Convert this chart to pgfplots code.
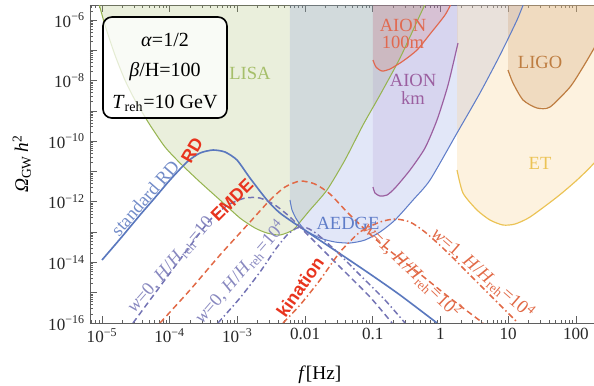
\documentclass[border=0pt]{standalone}
\usepackage{fontspec}
\setmainfont{Liberation Serif}
\setsansfont{Liberation Sans}
\usepackage{pgfplots}
\pgfplotsset{compat=1.18}
\usepackage{pgfplotstable}

\definecolor{lisaC}{RGB}{150,180,80}
\definecolor{lisaF}{RGB}{160,182,95}
\definecolor{aedgeC}{RGB}{95,125,200}
\definecolor{aedgeF}{RGB}{125,145,225}
\definecolor{aionkmC}{RGB}{155,95,160}
\definecolor{aionkmF}{RGB}{150,115,185}
\definecolor{aionhC}{RGB}{225,105,80}
\definecolor{aionhF}{RGB}{215,115,105}
\definecolor{etC}{RGB}{235,195,85}
\definecolor{etF}{RGB}{250,212,150}
\definecolor{ligoC}{RGB}{190,125,65}
\definecolor{ligoF}{RGB}{200,150,100}
\definecolor{rdC}{RGB}{90,120,190}
\definecolor{emdeC}{RGB}{115,115,180}
\definecolor{kinC}{RGB}{225,105,70}
\definecolor{redlab}{RGB}{232,52,30}
\definecolor{axisC}{RGB}{95,95,95}

% all tables: lx = log10(f/Hz), ly = log10(Omega h^2)
\pgfplotstableread{
lx ly
-5.059 -5.340
-4.956 -6.165
-4.808 -7.155
-4.661 -7.980
-4.513 -8.640
-4.291 -9.465
-4.069 -10.191
-3.848 -10.719
-3.552 -11.347
-3.257 -11.941
-2.962 -12.535
-2.740 -12.865
-2.563 -13.030
-2.371 -13.096
-2.179 -12.931
-2.075 -12.667
-1.928 -12.271
-1.677 -11.611
-1.411 -10.620
-1.145 -9.465
-0.894 -8.475
-0.598 -7.254
-0.303 -5.835
-0.199 -5.340
}\lisa

\pgfplotstableread{
lx ly
-2.223 -5.340
-2.223 -11.941
-2.193 -12.271
-2.120 -12.601
-2.001 -12.931
-1.780 -13.195
-1.558 -13.327
-1.337 -13.360
-1.115 -13.261
-0.894 -12.997
-0.672 -12.601
-0.406 -11.941
-0.155 -11.281
0.244 -9.729
0.583 -8.409
0.879 -7.155
1.130 -6.000
1.248 -5.340
}\aedge

\pgfplotstableread{
lx ly
-2.223 -11.941
-2.193 -12.271
-2.120 -12.601
-2.001 -12.931
-1.780 -13.195
-1.558 -13.327
-1.337 -13.360
-1.115 -13.261
-0.894 -12.997
-0.672 -12.601
-0.406 -11.941
-0.155 -11.281
0.244 -9.729
0.583 -8.409
0.879 -7.155
1.130 -6.000
1.248 -5.340
}\aedgeline

\pgfplotstableread{
lx ly
-0.997 -5.340
-0.997 -11.512
-0.967 -11.710
-0.894 -11.809
-0.790 -11.776
-0.672 -11.545
-0.450 -10.950
-0.229 -10.224
-0.052 -9.300
0.111 -8.145
0.258 -6.759
0.258 -5.340
}\aionkm

\pgfplotstableread{
lx ly
-0.997 -11.512
-0.967 -11.710
-0.894 -11.809
-0.790 -11.776
-0.672 -11.545
-0.450 -10.950
-0.229 -10.224
-0.052 -9.300
0.111 -8.145
0.258 -6.759
}\aionkmline

\pgfplotstableread{
lx ly
-0.997 -5.340
-0.997 -7.320
-0.953 -7.551
-0.864 -7.683
-0.746 -7.617
-0.554 -7.353
-0.347 -6.990
-0.155 -6.462
0.066 -5.835
0.185 -5.340
}\aionh

\pgfplotstableread{
lx ly
-0.997 -7.320
-0.953 -7.551
-0.864 -7.683
-0.746 -7.617
-0.554 -7.353
-0.347 -6.990
-0.155 -6.462
0.066 -5.835
0.185 -5.340
}\aionhline

\pgfplotstableread{
lx ly
0.244 -5.340
0.244 -10.950
0.332 -11.710
0.539 -12.271
0.731 -12.601
0.923 -12.766
1.100 -12.733
1.322 -12.502
1.721 -11.842
2.016 -11.281
2.282 -10.686
2.651 -9.630
2.651 -5.340
}\et

\pgfplotstableread{
lx ly
0.244 -10.950
0.332 -11.710
0.539 -12.271
0.731 -12.601
0.923 -12.766
1.100 -12.733
1.322 -12.502
1.721 -11.842
2.016 -11.281
2.282 -10.686
2.651 -9.630
}\etline

\pgfplotstableread{
lx ly
0.997 -5.340
0.997 -7.650
1.071 -8.079
1.219 -8.640
1.425 -8.904
1.617 -8.871
1.913 -8.211
2.105 -7.551
2.253 -6.990
2.504 -6.000
2.651 -5.340
}\ligo

\pgfplotstableread{
lx ly
0.997 -7.650
1.071 -8.079
1.219 -8.640
1.425 -8.904
1.617 -8.871
1.913 -8.211
2.105 -7.551
2.253 -6.990
2.504 -6.000
2.651 -5.340
}\ligoline

% standard RD
\pgfplotstableread{
lx ly
-5.000 -13.921
-4.734 -13.228
-4.439 -12.436
-4.247 -11.941
-3.996 -11.281
-3.745 -10.686
-3.552 -10.389
-3.360 -10.290
-3.183 -10.356
-3.006 -10.620
-2.814 -11.215
-2.563 -11.941
-2.371 -12.370
-2.075 -12.832
-1.588 -13.558
-1.041 -14.383
-0.598 -15.076
-0.052 -16.000
}\rd

% w=0, H/Hreh=10
\pgfplotstableread{
lx ly
-4.542 -16.000
-4.291 -15.241
-3.996 -14.350
-3.700 -13.459
-3.405 -12.601
-3.139 -12.106
-2.888 -11.875
-2.666 -11.875
-2.445 -12.106
-2.223 -12.502
-1.928 -13.162
-1.484 -14.152
-1.041 -15.142
-0.716 -16.000
}\emdea

% w=0, H/Hreh=10^4
\pgfplotstableread{
lx ly
-3.287 -16.000
-2.962 -15.175
-2.666 -14.317
-2.445 -13.591
-2.267 -13.096
-2.120 -12.865
-1.972 -12.865
-1.824 -13.063
-1.558 -13.591
-1.189 -14.416
-0.820 -15.241
-0.524 -16.000
}\emdeb

% w=1, H/Hreh=10^2
\pgfplotstableread{
lx ly
-4.143 -16.000
-3.700 -14.911
-3.257 -13.756
-2.814 -12.667
-2.518 -11.941
-2.297 -11.512
-2.075 -11.314
-1.854 -11.413
-1.632 -11.743
-1.337 -12.436
-0.894 -13.360
-0.303 -14.383
0.140 -15.175
0.628 -16.000
}\kina

% w=1, H/Hreh=10^4
\pgfplotstableread{
lx ly
-2.326 -16.000
-2.075 -15.406
-1.780 -14.581
-1.484 -13.657
-1.189 -12.997
-0.894 -12.667
-0.672 -12.568
-0.450 -12.667
-0.229 -12.997
0.066 -13.591
0.436 -14.416
0.805 -15.241
1.145 -16.000
}\kinb

\begin{document}
\begin{tikzpicture}
\begin{axis}[
  scale only axis, width=339.4pt, height=214.1pt,
  xmode=log, ymode=log,
  xmin=6.65e-6, xmax=185, ymin=1e-16, ymax=3.13e-6,
  axis x line*=box, axis y line*=left,
  axis line style={axisC, line width=0.6pt},
  tick style={axisC, line width=0.5pt},
  tick align=inside, major tick length=4.5pt, minor tick length=2.3pt,
  xtick={1e-5,1e-4,1e-3,1e-2,1e-1,1,10,100},
  xticklabels={10\textsuperscript{−5},10\textsuperscript{−4},10\textsuperscript{−3},0.01,0.1,1,10,100},
  minor xtick={7e-6,8e-6,9e-6,2e-5,3e-5,4e-5,5e-5,6e-5,7e-5,8e-5,9e-5,2e-4,3e-4,4e-4,5e-4,6e-4,7e-4,8e-4,9e-4,2e-3,3e-3,4e-3,5e-3,6e-3,7e-3,8e-3,9e-3,0.02,0.03,0.04,0.05,0.06,0.07,0.08,0.09,0.2,0.3,0.4,0.5,0.6,0.7,0.8,0.9,2,3,4,5,6,7,8,9,20,30,40,50,60,70,80,90},
  ytick={1e-16,1e-15,1e-14,1e-13,1e-12,1e-11,1e-10,1e-9,1e-8,1e-7,1e-6},
  yticklabels={10\textsuperscript{−16},,10\textsuperscript{−14},,10\textsuperscript{−12},,10\textsuperscript{−10},,10\textsuperscript{−8},,10\textsuperscript{−6}},
  minor ytick={2e-16,3e-16,4e-16,5e-16,6e-16,7e-16,8e-16,9e-16,2e-15,3e-15,4e-15,5e-15,6e-15,7e-15,8e-15,9e-15,2e-14,3e-14,4e-14,5e-14,6e-14,7e-14,8e-14,9e-14,2e-13,3e-13,4e-13,5e-13,6e-13,7e-13,8e-13,9e-13,2e-12,3e-12,4e-12,5e-12,6e-12,7e-12,8e-12,9e-12,2e-11,3e-11,4e-11,5e-11,6e-11,7e-11,8e-11,9e-11,2e-10,3e-10,4e-10,5e-10,6e-10,7e-10,8e-10,9e-10,2e-9,3e-9,4e-9,5e-9,6e-9,7e-9,8e-9,9e-9,2e-8,3e-8,4e-8,5e-8,6e-8,7e-8,8e-8,9e-8,2e-7,3e-7,4e-7,5e-7,6e-7,7e-7,8e-7,9e-7,2e-6,3e-6},
  ticklabel style={font=\fontsize{11.5}{13}\selectfont, text=black!85},
  xlabel={\textit{f}[Hz]},
  xlabel style={font=\fontsize{13}{15}\selectfont, at={(axis description cs:0.456,-0.1635)}, anchor=center},
  ylabel={\textit{Ω}\textsubscript{GW}\,\textit{h}\textsuperscript{2}},
  ylabel style={font=\fontsize{13}{15}\selectfont, at={(axis description cs:-0.135,0.5)}, anchor=center},
]
% detector regions
\addplot[draw=none, fill=lisaF, fill opacity=0.22] table[x expr=10^\thisrow{lx}, y expr=10^\thisrow{ly}] {\lisa} -- cycle;
\addplot[draw=none, fill=aedgeF, fill opacity=0.22] table[x expr=10^\thisrow{lx}, y expr=10^\thisrow{ly}] {\aedge} -- cycle;
\addplot[draw=none, fill=aionkmF, fill opacity=0.15] table[x expr=10^\thisrow{lx}, y expr=10^\thisrow{ly}] {\aionkm} -- cycle;
\addplot[draw=none, fill=aionhF, fill opacity=0.2] table[x expr=10^\thisrow{lx}, y expr=10^\thisrow{ly}] {\aionh} -- cycle;
\addplot[draw=none, fill=etF, fill opacity=0.3] table[x expr=10^\thisrow{lx}, y expr=10^\thisrow{ly}] {\et} -- cycle;
\addplot[draw=none, fill=ligoF, fill opacity=0.25] table[x expr=10^\thisrow{lx}, y expr=10^\thisrow{ly}] {\ligo} -- cycle;
% boundaries
\addplot[lisaC, line width=0.7pt, smooth, tension=0.4] table[x expr=10^\thisrow{lx}, y expr=10^\thisrow{ly}] {\lisa};
\addplot[aedgeC, line width=0.7pt, smooth, tension=0.4] table[x expr=10^\thisrow{lx}, y expr=10^\thisrow{ly}] {\aedgeline};
\addplot[aionkmC, line width=0.8pt, smooth, tension=0.4] table[x expr=10^\thisrow{lx}, y expr=10^\thisrow{ly}] {\aionkmline};
\addplot[aionhC, line width=0.8pt, smooth, tension=0.4] table[x expr=10^\thisrow{lx}, y expr=10^\thisrow{ly}] {\aionhline};
\addplot[etC, line width=0.8pt, smooth, tension=0.4] table[x expr=10^\thisrow{lx}, y expr=10^\thisrow{ly}] {\etline};
\addplot[ligoC, line width=0.8pt, smooth, tension=0.4] table[x expr=10^\thisrow{lx}, y expr=10^\thisrow{ly}] {\ligoline};
% spectra
\addplot[rdC, line width=1.1pt, smooth, tension=0.4] table[x expr=10^\thisrow{lx}, y expr=10^\thisrow{ly}] {\rd};
\addplot[emdeC, line width=1pt, smooth, tension=0.4, dash pattern=on 4pt off 2.5pt] table[x expr=10^\thisrow{lx}, y expr=10^\thisrow{ly}] {\emdea};
\addplot[emdeC, line width=1pt, smooth, tension=0.4, dash pattern=on 4pt off 2pt on 1pt off 2pt] table[x expr=10^\thisrow{lx}, y expr=10^\thisrow{ly}] {\emdeb};
\addplot[kinC, line width=1pt, smooth, tension=0.4, dash pattern=on 4pt off 2.5pt] table[x expr=10^\thisrow{lx}, y expr=10^\thisrow{ly}] {\kina};
\addplot[kinC, line width=1pt, smooth, tension=0.4, dash pattern=on 4pt off 2pt on 1pt off 2pt] table[x expr=10^\thisrow{lx}, y expr=10^\thisrow{ly}] {\kinb};

% detector labels
\node[inner sep=0.5pt, text=lisaC!85!white, font=\fontsize{12.5}{14}\selectfont] at (rel axis cs:0.3175,0.7862) {LISA};
\node[inner sep=0.5pt, text=aionhC, font=\fontsize{12.5}{12}\selectfont, align=center] at (rel axis cs:0.621,0.909) {AION\\100m};
\node[inner sep=0.5pt, text=aionkmC, font=\fontsize{12.5}{12}\selectfont, align=center] at (rel axis cs:0.641,0.7358) {AION\\km};
\node[inner sep=0.5pt, text=ligoC, font=\fontsize{12.5}{14}\selectfont] at (rel axis cs:0.893,0.8208) {LIGO};
\node[inner sep=0.5pt, text=etC, font=\fontsize{12.5}{14}\selectfont] at (rel axis cs:0.893,0.5031) {ET};
\node[inner sep=0.5pt, text=aedgeC, font=\fontsize{12.5}{14}\selectfont] at (rel axis cs:0.5119,0.3145) {AEDGE};
% curve labels
\node[inner sep=0.5pt, rotate=60, text=redlab, font=\sffamily\bfseries\fontsize{12}{14}\selectfont] at (rel axis cs:0.2024,0.544) {RD};
\node[inner sep=0.5pt, rotate=49, text=rdC!85!white, font=\fontsize{12.5}{14}\selectfont] at (rel axis cs:0.109,0.393) {standard RD};
\node[inner sep=0.5pt, rotate=45, text=redlab, font=\sffamily\bfseries\fontsize{12}{14}\selectfont] at (rel axis cs:0.2817,0.3868) {EMDE};
\node[inner sep=0.5pt, rotate=49, text=emdeC!85!white, font=\fontsize{12.5}{14}\selectfont] at (rel axis cs:0.1607,0.1824) {\textit{w}=0, \textit{H}/\textit{H}\textsubscript{reh}=10};
\node[inner sep=0.5pt, rotate=49, text=emdeC!85!white, font=\fontsize{12.5}{14}\selectfont] at (rel axis cs:0.2976,0.1604) {\textit{w}=0, \textit{H}/\textit{H}\textsubscript{reh}=10\textsuperscript{4}};
\node[inner sep=0.5pt, rotate=55, text=redlab, font=\sffamily\bfseries\fontsize{12}{14}\selectfont] at (rel axis cs:0.4167,0.1132) {kination};
\node[inner sep=0.5pt, rotate=-44, text=kinC, font=\fontsize{12.5}{14}\selectfont] at (rel axis cs:0.6389,0.1667) {\textit{w}=1, \textit{H}/\textit{H}\textsubscript{reh}=10\textsuperscript{2}};
\node[inner sep=0.5pt, rotate=-41, text=kinC, font=\fontsize{12.5}{14}\selectfont] at (rel axis cs:0.7798,0.1572) {\textit{w}=1, \textit{H}/\textit{H}\textsubscript{reh}=10\textsuperscript{4}};
% parameter box
\draw[rounded corners=6pt, line width=1.1pt, fill=white, fill opacity=0.75] (rel axis cs:0.0258,0.6447) rectangle (rel axis cs:0.2718,0.9623);
\node[inner sep=0.5pt, font=\fontsize{13.5}{15}\selectfont] at (rel axis cs:0.1488,0.8899) {\textit{α}=1/2};
\node[inner sep=0.5pt, font=\fontsize{13.5}{15}\selectfont] at (rel axis cs:0.1488,0.7893) {\textit{β}/H=100};
\node[inner sep=0.5pt, font=\fontsize{13.5}{15}\selectfont] at (rel axis cs:0.1488,0.6918) {\textit{T}\textsubscript{reh}=10 GeV};
\end{axis}
\path (current axis.south west) ++(-60.6pt,-41.8pt) coordinate (BL);
\path (current axis.north east) ++(0pt,3.4pt) coordinate (TR);
\pgfresetboundingbox
\path[use as bounding box] (BL) rectangle (TR);
\end{tikzpicture}
\end{document}
